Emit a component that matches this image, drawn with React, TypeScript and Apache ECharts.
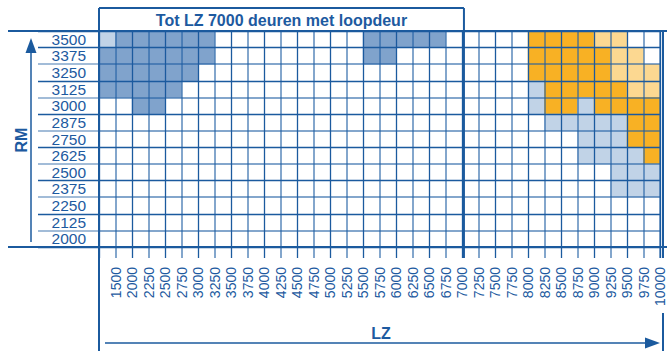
import React, { useEffect, useRef } from 'react';
import * as echarts from 'echarts';

// LZ column labels; each label marks the right edge of its column
const xLabels = [
  '1500', '2000', '2250', '2500', '2750', '3000', '3250', '3500', '3750', '4000',
  '4250', '4500', '4750', '5000', '5250', '5500', '5750', '6000', '6250', '6500',
  '6750', '7000', '7250', '7500', '7750', '8000', '8250', '8500', '8750', '9000',
  '9250', '9500', '9750', '10000',
];

// RM row labels, bottom to top
const yLabels = [
  '2000', '2125', '2250', '2375', '2500', '2625', '2750', '2875', '3000', '3125', '3250', '3375', '3500',
];

// RM values of the rows below, top to bottom
const rowRm = [3500, 3375, 3250, 3125, 3000, 2875, 2750, 2625, 2500, 2375, 2250, 2125, 2000];

// One character per LZ column: B dark blue, b light blue, O orange, o light orange, . empty
const rowCodes = [
  'bBBBBBB.........BBBBB.....OOOOoo..',
  'BBBBBBB.........BB........OOOOOoo.',
  'BBBBBB....................OOOOOooo',
  'BBBBB.....................bOOOOOoo',
  '..BB......................bOObOOOO',
  '...........................bbbbbOO',
  '.............................bbbOO',
  '.............................bbbbO',
  '...............................bbb',
  '...............................bbb',
  '..................................',
  '..................................',
  '..................................',
];

const classCodes = ['B', 'b', 'O', 'o'];
const classColors = ['#80a3cc', '#c1d3e7', '#f8b124', '#fcd891'];

const DARK = '#1b5a9e';
const LIGHT = 'rgba(30,92,162,0.55)';
const TEXT = '#1d5aa0';
const FONT = '"Liberation Sans", Arial, Helvetica, sans-serif';

// plot area geometry
const W = 667;
const H = 351;
const GL = 99;
const GT = 31;
const GR = 663;
const GB = 247;
const COLS = xLabels.length;

function buildCells() {
  const cells: [number, number, number][] = [];
  rowCodes.forEach((row, t) => {
    const rm = rowRm[t];
    const yi = yLabels.indexOf(String(rm));
    for (let c = 0; c < row.length; c++) {
      const k = classCodes.indexOf(row[c]);
      if (k >= 0) cells.push([c, yi, k]);
    }
  });
  return cells;
}

export default function App() {
  const ref = useRef<HTMLDivElement>(null);

  useEffect(() => {
    if (!ref.current) return;
    const chart = echarts.init(ref.current, undefined, { renderer: 'svg' });
    const cellW = (GR - GL) / COLS;
    const boxRight = GL + xLabels.indexOf('7000') * cellW + cellW;
    const line = (x1: number, y1: number, x2: number, y2: number, w = 2, color = DARK) => ({
      type: 'line',
      z: 100,
      silent: true,
      shape: { x1, y1, x2, y2 },
      style: { stroke: color, lineWidth: w },
    });

    chart.setOption({
      animation: false,
      backgroundColor: '#ffffff',
      grid: { left: GL, top: GT, width: GR - GL, height: GB - GT, containLabel: false },
      visualMap: {
        type: 'piecewise',
        show: false,
        dimension: 2,
        pieces: classColors.map((color, i) => ({ value: i, color })),
      },
      xAxis: [
        {
          type: 'category',
          data: xLabels,
          boundaryGap: true,
          position: 'bottom',
          axisLine: { show: false },
          axisLabel: { show: false },
          axisTick: {
            show: true,
            length: 11,
            interval: (i: number) => i % 2 === 1,
            lineStyle: { color: LIGHT, width: 2 },
          },
          splitLine: {
            show: true,
            interval: (i: number) => i % 2 === 1,
            lineStyle: { color: LIGHT, width: 2 },
          },
          z: 4,
        },
        {
          type: 'value',
          min: 0,
          max: COLS,
          interval: 2,
          position: 'bottom',
          axisLine: { show: true, lineStyle: { color: DARK, width: 2 } },
          axisLabel: { show: false },
          axisTick: { show: true, length: 11, lineStyle: { color: DARK, width: 1.3 } },
          splitLine: { show: true, lineStyle: { color: DARK, width: 1.3 } },
          z: 5,
        },
        {
          type: 'value',
          min: 0,
          max: COLS,
          interval: 1,
          position: 'bottom',
          axisLine: { show: false },
          axisTick: { show: false },
          splitLine: { show: false },
          axisLabel: {
            show: true,
            rotate: 90,
            margin: 20,
            color: TEXT,
            fontFamily: FONT,
            fontSize: 14,
            formatter: (v: number) => (v >= 1 && v <= COLS ? xLabels[Math.round(v) - 1] : ''),
          },
        },
      ],
      yAxis: [
        {
          type: 'category',
          data: yLabels,
          boundaryGap: true,
          position: 'left',
          axisLine: { show: false },
          axisLabel: { interval: 0, color: TEXT, fontFamily: FONT, fontSize: 15.5, margin: 13 },
          axisTick: {
            show: true,
            length: 61,
            interval: (i: number) => i % 2 === 1,
            lineStyle: { color: LIGHT, width: 1.5 },
          },
          splitLine: {
            show: true,
            interval: (i: number) => i % 2 === 1,
            lineStyle: { color: LIGHT, width: 2 },
          },
          z: 4,
        },
        {
          type: 'value',
          min: 0,
          max: yLabels.length,
          interval: 2,
          position: 'left',
          axisLine: { show: true, lineStyle: { color: DARK, width: 2 } },
          axisLabel: { show: false },
          axisTick: { show: true, length: 61, lineStyle: { color: DARK, width: 1.3 } },
          splitLine: { show: true, lineStyle: { color: DARK, width: 1.3 } },
          z: 5,
        },
      ],
      series: [
        {
          type: 'heatmap',
          xAxisIndex: 0,
          yAxisIndex: 0,
          data: buildCells(),
          emphasis: { disabled: true },
          itemStyle: { borderWidth: 0 },
          z: 2,
        },
      ],
      graphic: [
        line(8, GT, W, GT),
        line(8, GB, W, GB),
        line(GL, 8, GL, H),
        line(GL, 8, boxRight, 8),
        line(boxRight, 8, boxRight, GB + 11),
        line(GR, GT, GR, GB + 11),
        line(GR, 313, GR, H),
        {
          type: 'text',
          z: 100,
          x: (GL + boxRight) / 2,
          y: 20,
          style: {
            text: 'Tot LZ 7000 deuren met loopdeur',
            fill: TEXT,
            font: `bold 16px ${FONT}`,
            textAlign: 'center',
            textVerticalAlign: 'middle',
          },
        },
        line(31, 50, 31, 242, 1.5),
        {
          type: 'polygon',
          z: 100,
          shape: { points: [[25.5, 53], [31, 38], [36.5, 53]] },
          style: { fill: DARK },
        },
        {
          type: 'text',
          z: 100,
          x: 21,
          y: 140,
          rotation: Math.PI / 2,
          style: {
            text: 'RM',
            fill: TEXT,
            font: `bold 16px ${FONT}`,
            textAlign: 'center',
            textVerticalAlign: 'middle',
          },
        },
        line(105, 343, 648, 343, 1.5),
        {
          type: 'polygon',
          z: 100,
          shape: { points: [[645, 337.5], [660, 343], [645, 348.5]] },
          style: { fill: DARK },
        },
        {
          type: 'text',
          z: 100,
          x: (GL + GR) / 2,
          y: 333,
          style: {
            text: 'LZ',
            fill: TEXT,
            font: `bold 16px ${FONT}`,
            textAlign: 'center',
            textVerticalAlign: 'middle',
          },
        },
      ],
    });

    return () => chart.dispose();
  }, []);

  return (
    <div
      ref={ref}
      style={{ position: 'fixed', left: 0, top: 0, width: W, height: H, background: '#fff' }}
    />
  );
}
